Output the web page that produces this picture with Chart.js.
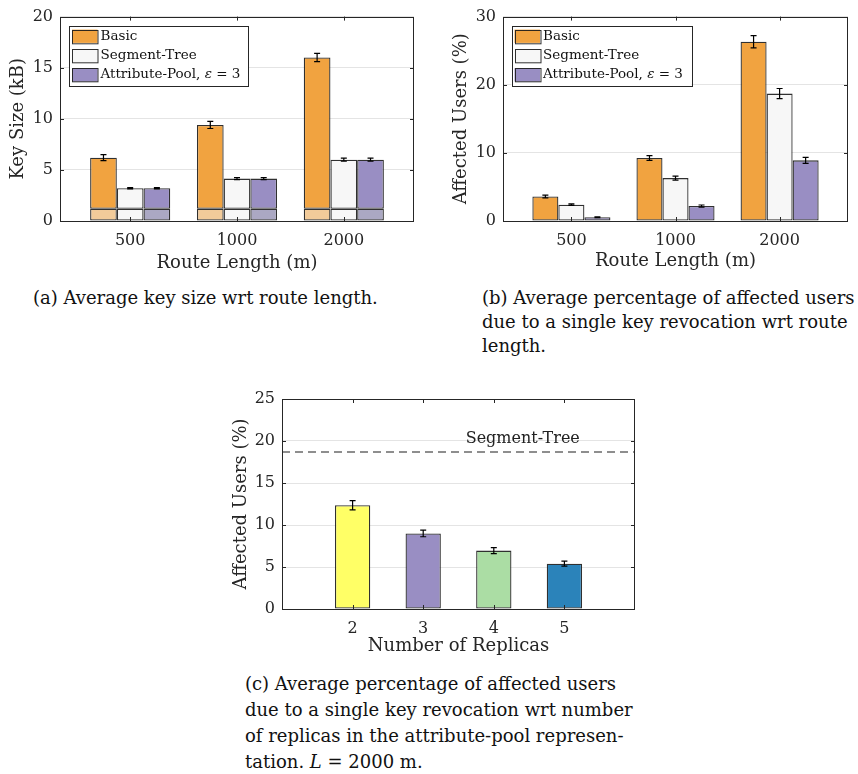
<!DOCTYPE html>
<html>
<head>
<meta charset="utf-8">
<script src="https://cdn.jsdelivr.net/npm/chart.js@4.4.1/dist/chart.umd.min.js"></script>
<style>
  body { margin: 0; background: #fff; }
  #page { position: relative; width: 858px; height: 774px; overflow: hidden; background: #fff; }
  .panel { position: absolute; }
  .cap { position: absolute; white-space: nowrap; color: #111; font-family: "DejaVu Serif", serif; font-size: 18px; }
  .cap-ab { line-height: 24px; }
  .cap-c { line-height: 26px; }
</style>
</head>
<body>
<div id="page">
  <div class="panel" style="left:0;top:0;width:430px;height:280px"><canvas id="keySizeChart"></canvas></div>
  <div class="panel" style="left:430px;top:0;width:428px;height:280px"><canvas id="affectedChart"></canvas></div>
  <div class="panel" style="left:220px;top:380px;width:420px;height:290px"><canvas id="replicaChart"></canvas></div>

  <div class="cap cap-ab" style="left:33px;top:286px">(a) Average key size wrt route length.</div>
  <div class="cap cap-ab" style="left:482px;top:286px">(b) Average percentage of affected users<br>due to a single key revocation wrt route<br>length.</div>
  <div class="cap cap-c" style="left:245px;top:671px">(c) Average percentage of affected users<br>due to a single key revocation wrt number<br>of replicas in the attribute-pool represen-<br>tation. <i>L</i> = 2000 m.</div>
</div>

<script>
(function() {
    'use strict';

    // ---- data ----
    const routeLabels = ['500', '1000', '2000'];
    const seriesNames = ['Basic', 'Segment-Tree', 'Attribute-Pool, ε = 3'];

    // (a) key size in kB
    const keyBasic = [6.2, 9.4, 16.0];
    const keySegTree = [3.2, 4.15, 6.0];
    const keyAttrPool = [3.2, 4.15, 6.0];
    const keyBasicErr = [0.3, 0.35, 0.4];
    const keySegTreeErr = [0.06, 0.1, 0.15];
    const keyAttrPoolErr = [0.06, 0.1, 0.15];
    const keyCommonPart = [1.2, 1.2, 1.2];   // lighter lower part of every bar

    // (b) affected users in %
    const affBasic = [3.6, 9.25, 26.3];
    const affSegTree = [2.4, 6.3, 18.7];
    const affAttrPool = [0.55, 2.2, 8.9];
    const affBasicErr = [0.2, 0.35, 0.9];
    const affSegTreeErr = [0.1, 0.3, 0.75];
    const affAttrPoolErr = [0.05, 0.15, 0.45];

    // (c) affected users vs number of replicas, L = 2000 m
    const replicas = [2, 3, 4, 5];
    const replicaAffected = [12.35, 9.0, 6.95, 5.4];
    const replicaErr = [0.55, 0.4, 0.35, 0.3];
    const segTreeReference = 18.7;

    // ---- styles ----
    const seriesColors = ['#F1A340', '#F7F7F7', '#998EC3'];
    const commonColors = ['#F2CB9A', '#F7F7F7', '#ABA8C3'];
    const replicaColors = ['#FFFF66', '#998EC3', '#ABDDA4', '#2B83BA'];
    const EDGE = 'rgba(25,25,25,0.9)';
    const AXIS = '#262626';
    const GRID = '#e4e4e4';
    const FONT = '"DejaVu Serif", serif';

    Chart.defaults.font.family = FONT;
    Chart.defaults.color = AXIS;
    Chart.defaults.animation = false;

    // error bars at the top of each bar, from dataset.errorBars
    const errorBarPlugin = {
        id: 'errorBars',
        afterDatasetsDraw(chart) {
            const ctx = chart.ctx;
            const y = chart.scales.y;
            const zero = y.getPixelForValue(0);
            chart.data.datasets.forEach((ds, di) => {
                if (!ds.errorBars) return;
                const meta = chart.getDatasetMeta(di);
                meta.data.forEach((bar, j) => {
                    const ePx = zero - y.getPixelForValue(ds.errorBars[j]);
                    const top = bar.y - ePx;
                    const bot = bar.y + ePx;
                    ctx.save();
                    ctx.strokeStyle = '#000';
                    ctx.lineWidth = 1.2;
                    ctx.beginPath();
                    ctx.moveTo(bar.x, top); ctx.lineTo(bar.x, bot);
                    ctx.moveTo(bar.x - 3, top); ctx.lineTo(bar.x + 3, top);
                    ctx.moveTo(bar.x - 3, bot); ctx.lineTo(bar.x + 3, bot);
                    ctx.stroke();
                    ctx.restore();
                });
            });
        }
    };

    // closed axes box with inward ticks (matlab look)
    const boxPlugin = {
        id: 'axesBox',
        afterDatasetsDraw(chart) {
            const {ctx, chartArea: a, scales} = chart;
            const L = 4;
            ctx.save();
            ctx.strokeStyle = AXIS;
            ctx.lineWidth = 1;
            ctx.beginPath();
            scales.x.ticks.forEach(t => {
                const px = Math.round(scales.x.getPixelForValue(t.value)) + 0.5;
                ctx.moveTo(px, a.bottom); ctx.lineTo(px, a.bottom - L);
                ctx.moveTo(px, a.top); ctx.lineTo(px, a.top + L);
            });
            scales.y.ticks.forEach(t => {
                const py = Math.round(scales.y.getPixelForValue(t.value)) + 0.5;
                ctx.moveTo(a.left, py); ctx.lineTo(a.left + L, py);
                ctx.moveTo(a.right, py); ctx.lineTo(a.right - L, py);
            });
            ctx.stroke();
            ctx.strokeRect(Math.round(a.left) + 0.5, Math.round(a.top) + 0.5,
                Math.round(a.width) - 1, Math.round(a.height));
            ctx.restore();
        }
    };

    // legend box inside the axes
    const boxLegendPlugin = {
        id: 'boxLegend',
        afterDraw(chart, args, opts) {
            if (!opts || !opts.items) return;
            const {ctx, chartArea: a} = chart;
            const x0 = a.left + opts.dx;
            const y0 = a.top + opts.dy;
            const rowH = 19.3;
            const swW = 25.5, swH = 13.3;
            const font = '13.5px ' + FONT;
            ctx.save();
            ctx.font = font;
            const w = opts.width;
            const h = rowH * opts.items.length + 2;
            ctx.fillStyle = '#fff';
            ctx.fillRect(x0, y0, w, h);
            ctx.strokeStyle = AXIS;
            ctx.lineWidth = 1;
            ctx.strokeRect(Math.round(x0) + 0.5, Math.round(y0) + 0.5, Math.round(w), Math.round(h));
            opts.items.forEach((it, i) => {
                const cy = y0 + 1 + rowH * (i + 0.5);
                ctx.fillStyle = it.color;
                ctx.fillRect(x0 + 3, cy - swH / 2, swW, swH);
                ctx.strokeStyle = EDGE;
                ctx.strokeRect(Math.round(x0 + 3) + 0.5, Math.round(cy - swH / 2) + 0.5, swW, swH);
                // italic epsilon inside the label
                ctx.fillStyle = '#111';
                ctx.textBaseline = 'middle';
                ctx.textAlign = 'left';
                let tx = x0 + swW + 6;
                const parts = it.label.split('ε');
                parts.forEach((p, k) => {
                    ctx.font = font;
                    ctx.fillText(p, tx, cy);
                    tx += ctx.measureText(p).width;
                    if (k < parts.length - 1) {
                        ctx.font = 'italic ' + font;
                        ctx.fillText('ε', tx, cy);
                        tx += ctx.measureText('ε').width;
                    }
                });
            });
            ctx.restore();
        }
    };

    // text label above the dashed reference line
    const refLabelPlugin = {
        id: 'refLabel',
        afterDatasetsDraw(chart, args, opts) {
            if (!opts || !opts.text) return;
            const {ctx, scales} = chart;
            ctx.save();
            ctx.font = '16px ' + FONT;
            ctx.fillStyle = '#222';
            ctx.textAlign = 'center';
            ctx.textBaseline = 'bottom';
            ctx.fillText(opts.text, scales.x.getPixelForValue(opts.atX), scales.y.getPixelForValue(opts.value) - 5);
            ctx.restore();
        }
    };

    function barSet(label, values, errors, color, stack) {
        return {
            type: 'bar',
            label: label,
            stack: stack,
            data: values.map((v, i) => ({ x: i + 1, y: v })),
            errorBars: errors,
            backgroundColor: color,
            borderColor: EDGE,
            borderWidth: 1.3,
            borderSkipped: false,
            categoryPercentage: 0.75,
            barPercentage: 1
        };
    }

    function yAxis(title, max, step, width, titlePad) {
        return {
            min: 0, max: max,
            afterFit: s => { s.width = width; },
            border: { display: false },
            grid: { color: GRID, drawTicks: false },
            ticks: { stepSize: step, padding: 7, font: { size: 16 } },
            title: { display: true, text: title, font: { size: 18 }, padding: { top: titlePad, bottom: 0 } }
        };
    }

    function routeXAxis(titlePad) {
        return {
            type: 'linear',
            offset: false,
            min: 0.343, max: 3.657,
            afterFit: s => { s.height = 59; },
            afterBuildTicks: s => { s.ticks = routeLabels.map((_, i) => ({ value: i + 1 })); },
            border: { display: false },
            grid: { display: false, drawTicks: false },
            ticks: { padding: 10, font: { size: 16 }, callback: v => routeLabels[v - 1] },
            title: { display: true, text: 'Route Length (m)', font: { size: 18 }, padding: { top: 0, bottom: titlePad } }
        };
    }

    function legendItems() {
        return seriesNames.map((n, i) => ({ label: n, color: seriesColors[i] }));
    }

    // upper part of a key bar, sitting on the common lower part
    function upperPart(values) {
        return values.map((v, i) => v - keyCommonPart[i]);
    }

    // (a) key size
    function initKeySizeChart() {
        const canvas = document.getElementById('keySizeChart');
        const datasets = [
            barSet('Basic (common part)', keyCommonPart, null, commonColors[0], 's0'),
            barSet('Segment-Tree (common part)', keyCommonPart, null, commonColors[1], 's1'),
            barSet('Attribute-Pool (common part)', keyCommonPart, null, commonColors[2], 's2'),
            barSet(seriesNames[0], upperPart(keyBasic), keyBasicErr, seriesColors[0], 's0'),
            barSet(seriesNames[1], upperPart(keySegTree), keySegTreeErr, seriesColors[1], 's1'),
            barSet(seriesNames[2], upperPart(keyAttrPool), keyAttrPoolErr, seriesColors[2], 's2')
        ];
        const x = routeXAxis(6);
        x.stacked = true;
        const y = yAxis('Key Size (kB)', 20, 5, 60, 8);
        y.stacked = true;
        new Chart(canvas, {
            type: 'bar',
            data: { datasets: datasets },
            options: {
                responsive: true,
                maintainAspectRatio: false,
                layout: { padding: { left: 0, right: 16, top: 11, bottom: 0 } },
                plugins: {
                    legend: { display: false },
                    tooltip: { enabled: false },
                    boxLegend: { dx: 9, dy: 9, width: 179, items: legendItems() }
                },
                scales: { x: x, y: y }
            },
            plugins: [errorBarPlugin, boxPlugin, boxLegendPlugin]
        });
    }

    // (b) affected users
    function initAffectedChart() {
        const canvas = document.getElementById('affectedChart');
        new Chart(canvas, {
            type: 'bar',
            data: {
                datasets: [
                    barSet(seriesNames[0], affBasic, affBasicErr, seriesColors[0]),
                    barSet(seriesNames[1], affSegTree, affSegTreeErr, seriesColors[1]),
                    barSet(seriesNames[2], affAttrPool, affAttrPoolErr, seriesColors[2])
                ]
            },
            options: {
                responsive: true,
                maintainAspectRatio: false,
                layout: { padding: { left: 0, right: 10, top: 11, bottom: 0 } },
                plugins: {
                    legend: { display: false },
                    tooltip: { enabled: false },
                    boxLegend: { dx: 8.5, dy: 9, width: 180, items: legendItems() }
                },
                scales: {
                    x: routeXAxis(7.5),
                    y: yAxis('Affected Users (%)', 30, 10, 73, 21)
                }
            },
            plugins: [errorBarPlugin, boxPlugin, boxLegendPlugin]
        });
    }

    // (c) number of replicas
    function initReplicaChart() {
        const canvas = document.getElementById('replicaChart');
        new Chart(canvas, {
            type: 'bar',
            data: {
                datasets: [
                    {
                        type: 'line',
                        label: 'Segment-Tree',
                        data: [{ x: 1, y: segTreeReference }, { x: 6, y: segTreeReference }],
                        borderColor: '#6a6a6a',
                        borderWidth: 1.5,
                        borderDash: [8, 5],
                        pointRadius: 0,
                        order: 0
                    },
                    {
                        type: 'bar',
                        label: 'Attribute-Pool',
                        data: replicas.map((r, i) => ({ x: r, y: replicaAffected[i] })),
                        errorBars: replicaErr,
                        backgroundColor: replicaColors,
                        borderColor: EDGE,
                        borderWidth: 1.3,
                        borderSkipped: false,
                        categoryPercentage: 0.5,
                        barPercentage: 1,
                        order: 1
                    }
                ]
            },
            options: {
                responsive: true,
                maintainAspectRatio: false,
                layout: { padding: { left: 0, right: 5, top: 19, bottom: 0 } },
                plugins: {
                    legend: { display: false },
                    tooltip: { enabled: false },
                    refLabel: { text: 'Segment-Tree', atX: 4.41, value: segTreeReference }
                },
                scales: {
                    x: {
                        type: 'linear',
                        offset: false,
                        min: 1, max: 6,
                        afterFit: s => { s.height = 61; },
                        afterBuildTicks: s => { s.ticks = replicas.map(r => ({ value: r })); },
                        border: { display: false },
                        grid: { display: false, drawTicks: false },
                        ticks: { padding: 10, font: { size: 16 }, callback: v => String(v) },
                        title: { display: true, text: 'Number of Replicas', font: { size: 18 }, padding: { top: 0, bottom: 12.5 } }
                    },
                    y: yAxis('Affected Users (%)', 25, 5, 62, 11)
                }
            },
            plugins: [errorBarPlugin, boxPlugin, refLabelPlugin]
        });
    }

    function initAll() {
        if (typeof Chart === 'undefined') {
            console.error('Chart.js is not loaded');
            return;
        }
        initKeySizeChart();
        initAffectedChart();
        initReplicaChart();
    }

    if (document.readyState === 'loading') {
        document.addEventListener('DOMContentLoaded', initAll);
    } else {
        initAll();
    }
})();
</script>
</body>
</html>
